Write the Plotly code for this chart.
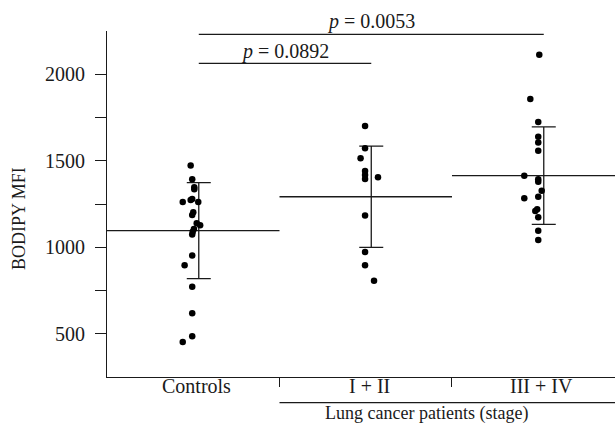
import plotly.graph_objects as go

# ---- data ----
categories = ["Controls", "I + II", "III + IV"]
group_label = "Lung cancer patients (stage)"

controls_vals = [1472, 1393, 1347, 1335, 1262, 1273, 1279, 1262, 1202, 1187, 1139,
                 1127, 1106, 1090, 1073, 952, 896, 772, 618, 486, 453]
controls_jit = [-0.015, -0.006, 0.006, 0.006, -0.061, -0.015, -0.006, 0.029, 0.0, -0.006, 0.02,
                0.04, 0.004, -0.003, -0.006, -0.006, -0.05, -0.006, -0.006, -0.006, -0.061]

stage12_vals = [1701, 1572, 1514, 1441, 1418, 1395, 1405, 1183, 973, 896, 807]
stage12_jit = [-0.004, -0.004, -0.03, -0.004, -0.004, -0.004, 0.071, -0.004, -0.004, -0.004, 0.048]

stage34_vals = [2113, 1857, 1724, 1639, 1605, 1558, 1414, 1393, 1379, 1327, 1292, 1283,
                1220, 1210, 1173, 1096, 1042]
stage34_jit = [0.006, -0.046, 0.0, 0.0, 0.0, 0.0, -0.081, 0.0, 0.0, 0.02, 0.0, -0.081,
               -0.006, -0.017, 0.0, 0.0, 0.0]

group_means = [1096, 1292, 1414]
group_sds = [277, 293, 282]

p_labels = ["<i>p</i> = 0.0892", "<i>p</i> = 0.0053"]
p_pairs = [(0, 1), (0, 2)]

y_tickvals = [500, 750, 1000, 1250, 1500, 1750, 2000]
y_ticktext = ["500", "", "1000", "", "1500", "", "2000"]
y_title = "BODIPY MFI"

# ---- figure ----
FONT = "Liberation Serif"
INK = "#1a1a1a"
XMAX = 2.445
EB_OFF = 0.032

fig = go.Figure()

groups = [(controls_vals, controls_jit), (stage12_vals, stage12_jit), (stage34_vals, stage34_jit)]

# mean lines
for i, m in enumerate(group_means):
    fig.add_trace(go.Scatter(x=[i - 0.5, i + 0.5], y=[m, m], mode="lines",
                             line=dict(color=INK, width=1.3), hoverinfo="skip", showlegend=False))

# SD error bars
fig.add_trace(go.Scatter(
    x=[i + EB_OFF for i in range(len(categories))], y=group_means, mode="markers",
    marker=dict(size=0.1, color="rgba(0,0,0,0)"),
    error_y=dict(type="data", array=group_sds, visible=True, width=12, thickness=1.3, color=INK),
    showlegend=False, hoverinfo="skip"))

# points
for i, (vals, jit) in enumerate(groups):
    fig.add_trace(go.Scatter(x=[i + j for j in jit], y=vals, mode="markers",
                             marker=dict(size=6.5, color="black"), showlegend=False))

# significance brackets (line positions in paper units, text via pixel shift)
sig_line_y = [0.9066, 0.9905]
sig_text_shift = [-20, 10]
for k, ((a, b), lab) in enumerate(zip(p_pairs, p_labels)):
    fig.add_shape(type="line", xref="x", yref="paper", x0=a + EB_OFF, x1=b + EB_OFF,
                  y0=sig_line_y[k], y1=sig_line_y[k], line=dict(color=INK, width=1.2))
    fig.add_annotation(x=(a + b) / 2 + EB_OFF, y=1, xref="x", yref="paper",
                       yshift=sig_text_shift[k], xanchor="center",
                       text=lab, showarrow=False, yanchor="middle",
                       font=dict(family=FONT, size=20, color=INK))

# category labels
for i, c in enumerate(categories):
    fig.add_annotation(x=i + 0.02, y=0, xref="x", yref="paper", yshift=-9, yanchor="middle",
                       xanchor="center",
                       text=c, showarrow=False, font=dict(family=FONT, size=20, color=INK))

# group bracket + label
fig.add_shape(type="line", xref="x", yref="paper", x0=0.5, x1=XMAX, y0=-0.0743, y1=-0.0743,
              line=dict(color=INK, width=1.2))
fig.add_annotation(x=1.355, y=0, xref="x", yref="paper", yshift=-36, yanchor="middle",
                   xanchor="center",
                   text=group_label, showarrow=False, font=dict(family=FONT, size=18, color=INK))

# y title
fig.add_annotation(x=0, y=0.5, xref="paper", yref="paper", xshift=-88, yshift=-15,
                   xanchor="center", yanchor="middle",
                   text=y_title, textangle=-90, showarrow=False,
                   font=dict(family=FONT, size=18, color=INK))

fig.update_layout(
    width=615, height=445,
    margin=dict(l=107, r=0, t=31, b=68),
    plot_bgcolor="white", paper_bgcolor="white",
    font=dict(family=FONT, size=20, color=INK),
    xaxis=dict(range=[-0.5, XMAX], showline=True, linecolor=INK, linewidth=1.2,
               tickvals=[0.5, 1.5], ticks="outside", ticklen=9, tickwidth=1.2, tickcolor=INK,
               showticklabels=False, showgrid=False, zeroline=False),
    yaxis=dict(range=[250, 2250], showline=True, linecolor=INK, linewidth=1.2,
               tickvals=y_tickvals, ticktext=y_ticktext, ticks="outside", ticklen=11,
               tickwidth=1.2, tickcolor=INK, ticklabelstandoff=6,
               tickfont=dict(family=FONT, size=20, color=INK),
               showgrid=False, zeroline=False),
)

fig.write_html("out.html")
